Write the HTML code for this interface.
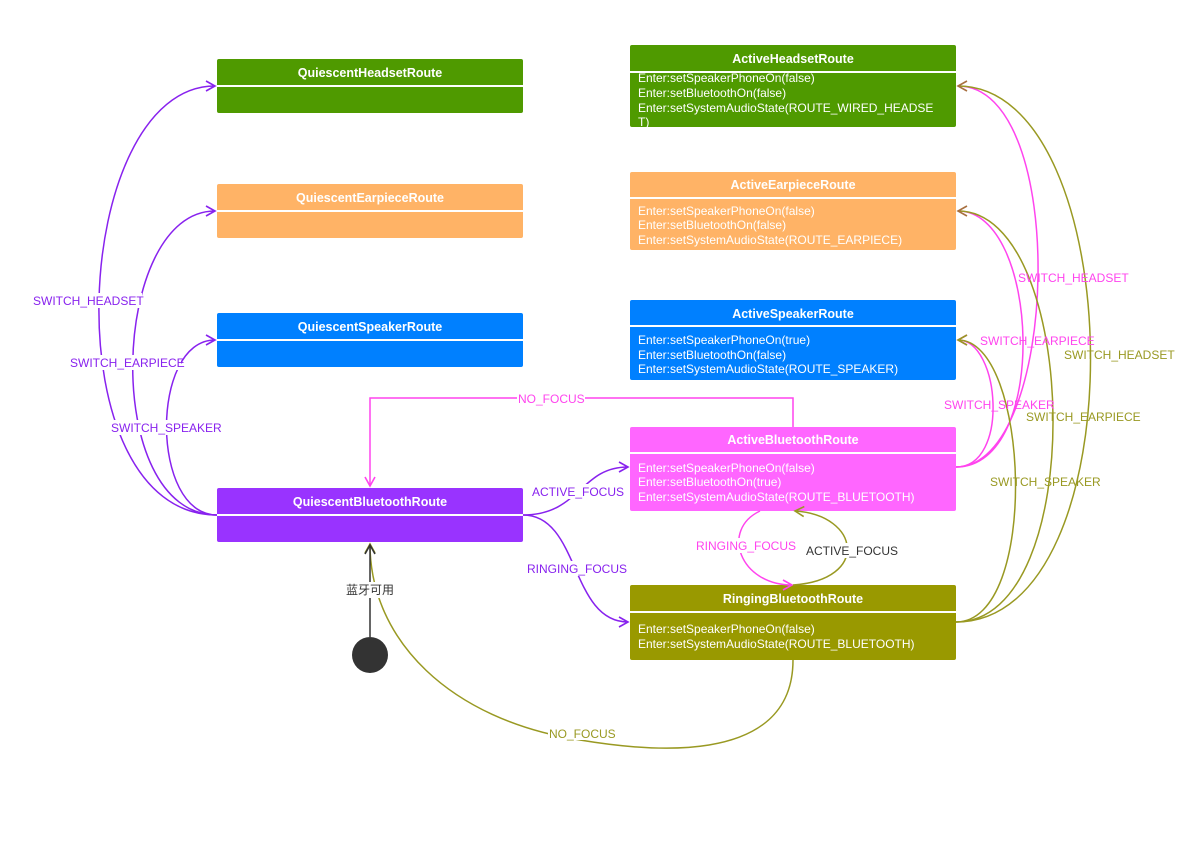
<!DOCTYPE html>
<html><head><meta charset="utf-8"><style>
html,body{margin:0;padding:0;background:#fff;}
svg{display:block;}
text{font-family:"Liberation Sans","Noto Sans CJK SC",sans-serif;}
.t{font-weight:bold;font-size:12.5px;fill:#fff;text-anchor:middle;}
.b{font-size:12px;fill:#fff;}
.l{font-size:12px;}
</style></head><body>
<svg width="1200" height="866" viewBox="0 0 1200 866" xmlns="http://www.w3.org/2000/svg">
<defs>
<marker id="ap" markerWidth="12" markerHeight="12" refX="10" refY="6" orient="auto" markerUnits="userSpaceOnUse"><path d="M1,1 L10,6 L1,11" fill="none" stroke="#8822ee" stroke-width="1.6"/></marker>
<marker id="am" markerWidth="12" markerHeight="12" refX="10" refY="6" orient="auto" markerUnits="userSpaceOnUse"><path d="M1,1 L10,6 L1,11" fill="none" stroke="#ff44ee" stroke-width="1.6"/></marker>
<marker id="ao" markerWidth="12" markerHeight="12" refX="10" refY="6" orient="auto" markerUnits="userSpaceOnUse"><path d="M1,1 L10,6 L1,11" fill="none" stroke="#999922" stroke-width="1.6"/></marker>
<marker id="ab" markerWidth="12" markerHeight="12" refX="10" refY="6" orient="auto" markerUnits="userSpaceOnUse"><path d="M1,1 L10,6 L1,11" fill="none" stroke="#a87040" stroke-width="1.6"/></marker>
<marker id="ak" markerWidth="12" markerHeight="12" refX="10" refY="6" orient="auto" markerUnits="userSpaceOnUse"><path d="M1,1 L10,6 L1,11" fill="none" stroke="#333" stroke-width="1.6"/></marker>
</defs>

<!-- boxes -->
<g>
<rect x="217" y="59" width="306" height="54" rx="2" fill="#4f9a00"/><line x1="217" y1="86" x2="523" y2="86" stroke="#fff" stroke-width="2"/>
<text class="t" x="370" y="77">QuiescentHeadsetRoute</text>
<rect x="217" y="184" width="306" height="54" rx="2" fill="#ffb366"/><line x1="217" y1="211" x2="523" y2="211" stroke="#fff" stroke-width="2"/>
<text class="t" x="370" y="202">QuiescentEarpieceRoute</text>
<rect x="217" y="313" width="306" height="54" rx="2" fill="#0080ff"/><line x1="217" y1="340" x2="523" y2="340" stroke="#fff" stroke-width="2"/>
<text class="t" x="370" y="331">QuiescentSpeakerRoute</text>
<rect x="217" y="488" width="306" height="54" rx="2" fill="#9933ff"/><line x1="217" y1="515" x2="523" y2="515" stroke="#fff" stroke-width="2"/>
<text class="t" x="370" y="506">QuiescentBluetoothRoute</text>

<rect x="630" y="45" width="326" height="82" rx="2" fill="#4f9a00"/><line x1="630" y1="72" x2="956" y2="72" stroke="#fff" stroke-width="2"/>
<text class="t" x="793" y="63">ActiveHeadsetRoute</text>
<text class="b" x="638" y="82">Enter:setSpeakerPhoneOn(false)</text>
<text class="b" x="638" y="97">Enter:setBluetoothOn(false)</text>
<text class="b" x="638" y="112">Enter:setSystemAudioState(ROUTE_WIRED_HEADSE</text>
<text class="b" x="638" y="126">T)</text>

<rect x="630" y="172" width="326" height="78" rx="2" fill="#ffb366"/><line x1="630" y1="198" x2="956" y2="198" stroke="#fff" stroke-width="2"/>
<text class="t" x="793" y="189">ActiveEarpieceRoute</text>
<text class="b" x="638" y="215">Enter:setSpeakerPhoneOn(false)</text>
<text class="b" x="638" y="229">Enter:setBluetoothOn(false)</text>
<text class="b" x="638" y="244">Enter:setSystemAudioState(ROUTE_EARPIECE)</text>

<rect x="630" y="300" width="326" height="80" rx="2" fill="#0080ff"/><line x1="630" y1="326" x2="956" y2="326" stroke="#fff" stroke-width="2"/>
<text class="t" x="793" y="318">ActiveSpeakerRoute</text>
<text class="b" x="638" y="344">Enter:setSpeakerPhoneOn(true)</text>
<text class="b" x="638" y="359">Enter:setBluetoothOn(false)</text>
<text class="b" x="638" y="373">Enter:setSystemAudioState(ROUTE_SPEAKER)</text>

<rect x="630" y="427" width="326" height="84" rx="2" fill="#ff66ff"/><line x1="630" y1="453" x2="956" y2="453" stroke="#fff" stroke-width="2"/>
<text class="t" x="793" y="444">ActiveBluetoothRoute</text>
<text class="b" x="638" y="472">Enter:setSpeakerPhoneOn(false)</text>
<text class="b" x="638" y="486">Enter:setBluetoothOn(true)</text>
<text class="b" x="638" y="501">Enter:setSystemAudioState(ROUTE_BLUETOOTH)</text>

<rect x="630" y="585" width="326" height="75" rx="2" fill="#999900"/><line x1="630" y1="612" x2="956" y2="612" stroke="#fff" stroke-width="2"/>
<text class="t" x="793" y="603">RingingBluetoothRoute</text>
<text class="b" x="638" y="633">Enter:setSpeakerPhoneOn(false)</text>
<text class="b" x="638" y="648">Enter:setSystemAudioState(ROUTE_BLUETOOTH)</text>
</g>

<!-- purple left curves -->
<g fill="none" stroke="#8822ee" stroke-width="1.5">
<path d="M217,515 C50,515 70,86 215,86" marker-end="url(#ap)"/>
<path d="M217,515 C100,515 110,211 215,211" marker-end="url(#ap)"/>
<path d="M217,515 C150,515 150,340 215,340" marker-end="url(#ap)"/>
<path d="M523,515 C580,515 580,467 628,467" marker-end="url(#ap)"/>
<path d="M523,515 C580,515 570,622 628,622" marker-end="url(#ap)"/>
</g>
<g class="l" fill="#8822ee">
<rect x="32" y="293" width="110" height="15" fill="#fff"/>
<text x="33" y="305">SWITCH_HEADSET</text>
<rect x="69" y="355" width="112" height="15" fill="#fff"/>
<text x="70" y="367">SWITCH_EARPIECE</text>
<rect x="110" y="420" width="108" height="15" fill="#fff"/>
<text x="111" y="432">SWITCH_SPEAKER</text>
<rect x="530" y="484" width="94" height="15" fill="#fff"/>
<text x="532" y="496">ACTIVE_FOCUS</text>
<rect x="526" y="561" width="102" height="15" fill="#fff"/>
<text x="527" y="573">RINGING_FOCUS</text>
</g>

<!-- NO_FOCUS magenta -->
<g fill="none" stroke="#ff44ee" stroke-width="1.5">
<path d="M793,427 L793,398 L370,398 L370,486" marker-end="url(#am)"/>
<path d="M956,467 C1010,467 1000,340 958,340" marker-end="url(#am)"/>
<path d="M956,467 C1050,467 1040,211 958,211" />
<path d="M956,467 C1060,467 1070,86 958,86" />
<path d="M760,511 C720,530 740,585 792,585" marker-end="url(#am)"/>
</g>
<!-- olive -->
<g fill="none" stroke="#999922" stroke-width="1.5">
<path d="M956,622 C1040,622 1030,340 958,340" marker-end="url(#ao)"/>
<path d="M956,622 C1090,622 1080,211 958,211" marker-end="url(#ab)"/>
<path d="M956,622 C1140,622 1130,86 958,86" marker-end="url(#ab)"/>
<path d="M793,585 C870,580 860,515 795,511" marker-end="url(#ao)"/>
<path d="M793,660 C793,770 640,750 580,740 C450,720 370,640 370,544" marker-end="url(#ao)"/>
</g>
<g class="l">
<rect x="517" y="391" width="68" height="14" fill="#fff"/>
<text x="518" y="403" fill="#ff44ee">NO_FOCUS</text>
<text x="1018" y="282" fill="#ff44ee">SWITCH_HEADSET</text>
<text x="980" y="345" fill="#ff44ee">SWITCH_EARPIECE</text>
<text x="944" y="409" fill="#ff44ee">SWITCH_SPEAKER</text>
<text x="1064" y="359" fill="#999922">SWITCH_HEADSET</text>
<text x="1026" y="421" fill="#999922">SWITCH_EARPIECE</text>
<text x="990" y="486" fill="#999922">SWITCH_SPEAKER</text>
<rect x="694" y="538" width="102" height="15" fill="#fff"/>
<text x="696" y="550" fill="#ff44ee">RINGING_FOCUS</text>
<rect x="805" y="543" width="92" height="15" fill="#fff"/>
<text x="806" y="555" fill="#333">ACTIVE_FOCUS</text>
<rect x="548" y="726" width="68" height="14" fill="#fff"/>
<text x="549" y="738" fill="#999922">NO_FOCUS</text>
</g>

<!-- initial -->
<line x1="370" y1="637" x2="370" y2="545" stroke="#333" stroke-width="1.5" marker-end="url(#ak)"/>
<rect x="343" y="582" width="54" height="16" fill="#fff"/>
<text class="l" x="346" y="594" fill="#333">蓝牙可用</text>
<circle cx="370" cy="655" r="18" fill="#333"/>
</svg>
</body></html>
